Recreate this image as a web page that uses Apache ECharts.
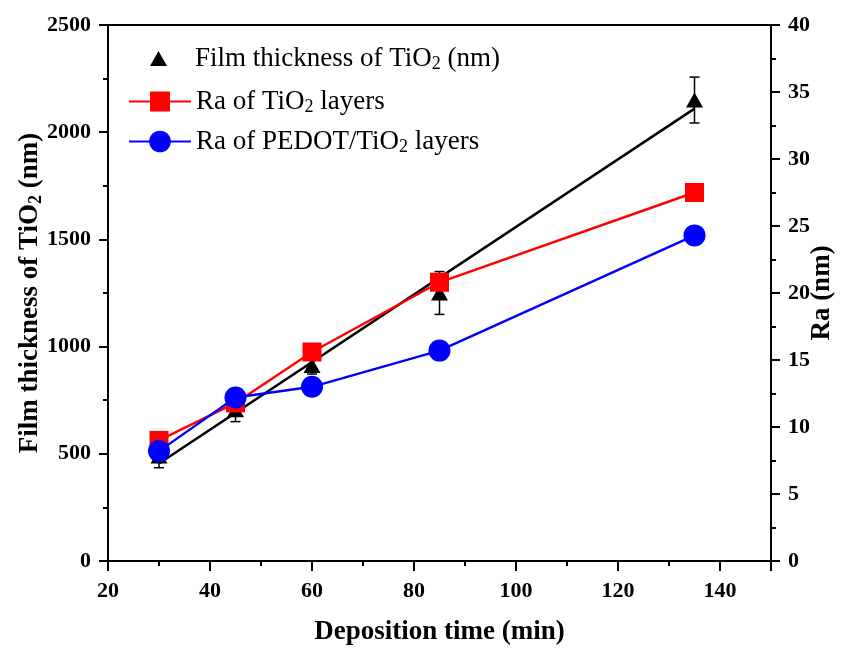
<!DOCTYPE html>
<html>
<head>
<meta charset="utf-8">
<script src="https://cdn.jsdelivr.net/npm/echarts@6/dist/echarts.min.js"></script>
<style>
html,body{margin:0;padding:0;background:#fff;}
#chart{width:843px;height:648px;}
</style>
</head>
<body>
<div id="chart"></div>
<script>
// ---- data ----
const xTime = [30, 45, 60, 85, 135];                 // deposition time (min)
const thickness = [490, 705, 912, 1250, 2150];       // film thickness of TiO2 (nm)
const thicknessErr = [55, 55, 40, 100, 107];         // error bar half-lengths (nm)
const raTiO2 = [9.0, 11.8, 15.6, 20.8, 27.5];        // Ra of TiO2 layers (nm)
const raPEDOT = [8.2, 12.2, 13.0, 15.7, 24.3];       // Ra of PEDOT/TiO2 layers (nm)
const fitLine = [[30, 455], [135, 2110]];            // linear fit drawn through thickness
const xAxisRange = [20, 150, 20];                    // min, max, interval
const leftAxisRange = [0, 2500, 500];
const rightAxisRange = [0, 40, 5];

const names = ['Film thickness of TiO2 (nm)', 'Ra of TiO2 layers', 'Ra of PEDOT/TiO2 layers'];

const FONT = 'Liberation Serif';
const chart = echarts.init(document.getElementById('chart'), null, {renderer: 'canvas'});

function richName(name) {
  return '{a|' + name.replace('TiO2', 'TiO}{s|2}{a|') + '}';
}

const legendRich = {
  a: {fontFamily: FONT, fontSize: 27, color: '#000', lineHeight: 30},
  s: {fontFamily: FONT, fontSize: 18, color: '#000', lineHeight: 14, verticalAlign: 'bottom'}
};

function makeLegend(name, left, top, itemWidth, itemHeight, textPadLeft) {
  return {
    data: [name], left: left, top: top, padding: 0,
    itemWidth: itemWidth, itemHeight: itemHeight, selectedMode: false,
    formatter: richName,
    textStyle: {fontFamily: FONT, fontSize: 27, color: '#000', rich: legendRich, padding: [0, 0, 0, textPadLeft]}
  };
}

function plain(v) { return String(v); }

function axisCommon() {
  return {
    nameMoveOverlap: false,
    axisLine: {show: true, onZero: false, lineStyle: {color: '#000', width: 2}},
    axisTick: {show: true, inside: false, length: 9, lineStyle: {color: '#000', width: 2}},
    minorTick: {show: true, splitNumber: 2, length: 5, lineStyle: {color: '#000', width: 2}},
    splitLine: {show: false},
    minorSplitLine: {show: false},
    axisLabel: {fontFamily: FONT, fontWeight: 'bold', fontSize: 22, color: '#000', formatter: plain}
  };
}

const xAx = Object.assign(axisCommon(), {
  type: 'value', min: xAxisRange[0], max: xAxisRange[1], interval: xAxisRange[2],
  name: 'Deposition time (min)', nameLocation: 'middle', nameGap: 58,
  nameTextStyle: {fontFamily: FONT, fontWeight: 'bold', fontSize: 27, color: '#000'}
});
xAx.axisLabel.margin = 19;
xAx.axisLabel.showMaxLabel = false;
xAx.axisTick.length = 10;

const yLeft = Object.assign(axisCommon(), {
  type: 'value', position: 'left', min: leftAxisRange[0], max: leftAxisRange[1], interval: leftAxisRange[2],
  name: '{b|Film thickness of TiO}{bs|2}{b| (nm)}', nameLocation: 'middle', nameGap: 63, nameRotate: 90,
  nameTextStyle: {
    fontFamily: FONT, fontWeight: 'bold', fontSize: 27, color: '#000',
    rich: {
      b: {fontFamily: FONT, fontWeight: 'bold', fontSize: 27, color: '#000', lineHeight: 30},
      bs: {fontFamily: FONT, fontWeight: 'bold', fontSize: 18, color: '#000', lineHeight: 14, verticalAlign: 'bottom'}
    }
  }
});
yLeft.axisLabel.margin = 17;

const yRight = Object.assign(axisCommon(), {
  type: 'value', position: 'right', min: rightAxisRange[0], max: rightAxisRange[1], interval: rightAxisRange[2],
  name: 'Ra (nm)', nameLocation: 'middle', nameGap: 38, nameRotate: 90,
  nameTextStyle: {fontFamily: FONT, fontWeight: 'bold', fontSize: 27, color: '#000'}
});
yRight.axisLabel.margin = 17;

const errData = xTime.map((t, i) => [t, thickness[i], thicknessErr[i]]);

const option = {
  animation: false,
  backgroundColor: '#fff',
  grid: {left: 108, right: 72, top: 25, bottom: 87, containLabel: false, outerBoundsMode: 'none',
         show: true, borderColor: '#000', borderWidth: 2, backgroundColor: 'transparent'},
  legend: [
    makeLegend(names[0], 150, 45, 17, 15, 23),
    makeLegend(names[1], 128, 88, 62, 25, 0),
    makeLegend(names[2], 128, 128, 62, 27, 0)
  ],
  xAxis: xAx,
  yAxis: [yLeft, yRight],
  series: [
    {
      name: 'fit', type: 'line', yAxisIndex: 0, data: fitLine, showSymbol: false, symbol: 'none',
      lineStyle: {color: '#000', width: 2.5}, z: 2, silent: true
    },
    {
      name: 'err', type: 'custom', yAxisIndex: 0, data: errData, z: 3, silent: true,
      renderItem: function (params, api) {
        const x = api.value(0), y = api.value(1), e = api.value(2);
        const top = api.coord([x, y + e]);
        const bot = api.coord([x, y - e]);
        const w = 5;
        const st = {stroke: '#000', lineWidth: 1.5};
        return {
          type: 'group',
          children: [
            {type: 'line', shape: {x1: top[0], y1: top[1], x2: bot[0], y2: bot[1]}, style: st},
            {type: 'line', shape: {x1: top[0] - w, y1: top[1], x2: top[0] + w, y2: top[1]}, style: st},
            {type: 'line', shape: {x1: bot[0] - w, y1: bot[1], x2: bot[0] + w, y2: bot[1]}, style: st}
          ]
        };
      }
    },
    {
      name: names[0], type: 'scatter', yAxisIndex: 0,
      data: xTime.map((t, i) => [t, thickness[i]]),
      symbol: 'triangle', symbolSize: [17, 15], itemStyle: {color: '#000', opacity: 1}, z: 4
    },
    {
      name: names[1], type: 'line', yAxisIndex: 1,
      data: xTime.map((t, i) => [t, raTiO2[i]]),
      symbol: 'rect', symbolSize: 19, showAllSymbol: true,
      itemStyle: {color: '#ff0000', opacity: 1}, lineStyle: {color: '#ff0000', width: 2.4}, z: 5
    },
    {
      name: names[2], type: 'line', yAxisIndex: 1,
      data: xTime.map((t, i) => [t, raPEDOT[i]]),
      symbol: 'circle', symbolSize: 22, showAllSymbol: true,
      itemStyle: {color: '#0000ff', opacity: 1}, lineStyle: {color: '#0000ff', width: 2.4}, z: 6
    }
  ]
};
chart.setOption(option);
</script>
</body>
</html>
